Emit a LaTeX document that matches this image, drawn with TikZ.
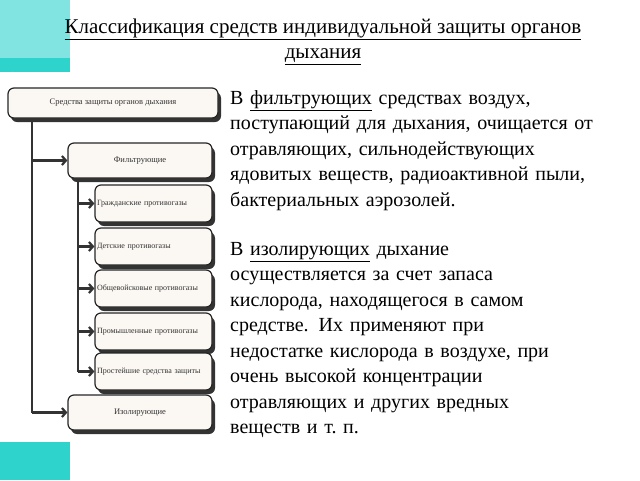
\documentclass[tikz,border=0pt]{standalone}
\usepackage{fontspec}
\setmainfont{Liberation Serif}
\usetikzlibrary{positioning,arrows.meta}
\definecolor{teal1}{HTML}{2ED3CC}
\definecolor{boxfill}{HTML}{FBF8F3}
\begin{document}
\begin{tikzpicture}[x=1pt,y=-1pt,
  box/.style={draw=black!85, line width=1.2pt, rounded corners=6pt, fill=boxfill,
    inner sep=0pt, font=\fontsize{8.5}{9}\selectfont, text=black!80},
  sub/.style={box, minimum width=117, minimum height=37, text width=113, align=left,
    font=\fontsize{8}{9}\selectfont},
  conn/.style={line width=2.2pt, draw=black!80, -{Straight Barb[length=4pt,width=9pt]}},
  para/.style={anchor=north west, align=left, font=\fontsize{20}{25.5}\selectfont, inner sep=0pt}]
\useasboundingbox (0,0) rectangle (640,480);
\fill[white] (0,0) rectangle (640,480);
% decorative squares
\fill[teal1] (0,0) rectangle (70,72);
\fill[teal1!60!white] (0,0) rectangle (70,58);
\draw[white, line width=1pt] (12,72) arc[start angle=180, end angle=70, radius=60];
\fill[teal1] (0,442) rectangle (70,480);
% title
\node[align=center, font=\fontsize{21}{25}\selectfont, inner sep=0pt] (title) at (323,42)
  {\underline{Классификация средств индивидуальной защиты органов}\\\underline{дыхания}};
% boxes, with shadow
\foreach \n/\xa/\ya/\xb/\yb in {main/8/88/218/118, filt/68/143/212/178, s1/95/185/212/222,
  s2/95/228/212/265, s3/95/270/212/307, s4/95/313/212/350, s5/95/353/212/390, izol/68/395/212/430}
  \fill[black!80, rounded corners=6pt] (\xa+3,\ya+4) rectangle (\xb+3,\yb+4);
\node[box, minimum width=210, minimum height=30] (main) at (113,103) {Средства защиты органов дыхания};
\node[box, minimum width=144, minimum height=35] (filt) at (140,160.5) {Фильтрующие};
\node[sub] (s1) at (153.5,203.5) {Гражданские противогазы};
\node[sub] (s2) at (153.5,246.5) {Детские противогазы};
\node[sub] (s3) at (153.5,288.5) {Общевойсковые противогазы};
\node[sub] (s4) at (153.5,331.5) {Промышленные противогазы};
\node[sub] (s5) at (153.5,371.5) {Простейшие средства защиты};
\node[box, minimum width=144, minimum height=35] (izol) at (140,412.5) {Изолирующие};
% connectors
\coordinate (m0) at (32,118);
\coordinate (f0) at (78,178);
\draw[line width=2.2pt, black!80] (m0) -- (32,412.5);
\draw[line width=2.2pt, black!80] (f0) -- (78,371.5);
\draw[conn] (32,160.5) -- (filt.west);
\draw[conn] (32,412.5) -- (izol.west);
\foreach \s in {s1,s2,s3,s4,s5}
  \draw[conn] (\s.west -| f0) -- (\s.west);
% text
\node[para, text width=400] (p1) at (230,90)
  {\raggedright В \underline{фильтрующих} средствах воздух,\\ поступающий для дыхания, очищается от\\ отравляющих, сильнодействующих\\ ядовитых веществ, радиоактивной пыли,\\ бактериальных аэрозолей.};
\node[para, text width=400] (p2) at (230,242)
  {\raggedright В \underline{изолирующих} дыхание\\ осуществляется за счет запаса\\ кислорода, находящегося в самом\\ средстве. Их применяют при\\ недостатке кислорода в воздухе, при\\ очень высокой концентрации\\ отравляющих и других вредных\\ веществ и т.~п.};
\end{tikzpicture}
\end{document}
